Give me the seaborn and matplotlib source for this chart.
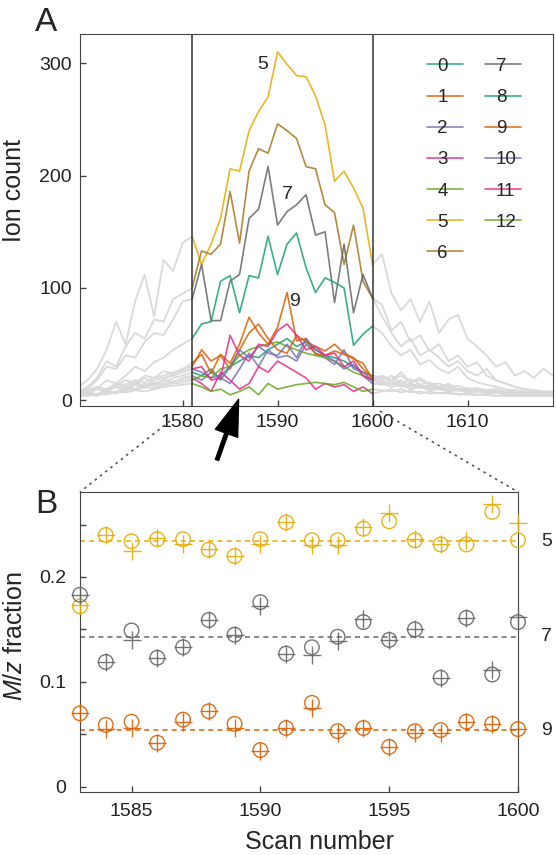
import matplotlib
matplotlib.use('Agg')
import pandas as pd
import matplotlib.pyplot as plt
from matplotlib.lines import Line2D
import seaborn as sns

# ---- panel A: ion counts per isotope peak, scans 1581-1600 (coloured window)
window_scans = list(range(1581, 1601))
left_scans = list(range(1569, 1581))
right_scans = list(range(1601, 1620))

s0 = [25, 22, 28, 18, 30, 35, 40, 38, 45, 50, 55, 48, 52, 45, 40, 38, 35, 30, 25, 22]
s1 = [30, 45, 35, 40, 28, 45, 60, 68, 55, 45, 42, 58, 52, 48, 44, 50, 42, 38, 28, 20]
s2 = [22, 18, 25, 20, 15, 28, 42, 30, 45, 38, 40, 35, 50, 42, 38, 32, 45, 28, 25, 18]
s3 = [20, 15, 8, 25, 18, 10, 15, 30, 25, 35, 30, 25, 20, 10, 15, 12, 14, 8, 12, 6]
s4 = [18, 22, 20, 28, 30, 40, 45, 48, 50, 52, 48, 45, 42, 40, 38, 35, 30, 25, 22, 18]
s5 = [146, 121, 139, 162, 206, 204, 240, 257, 270, 310, 299, 289, 288, 271, 245, 195, 204, 189, 171, 121]
s6 = [100, 133, 130, 139, 186, 140, 204, 224, 220, 246, 240, 233, 208, 206, 174, 167, 121, 156, 106, 91]
s7 = [90, 121, 71, 71, 106, 112, 162, 170, 208, 156, 168, 174, 183, 147, 150, 87, 139, 78, 112, 91]
s8 = [55, 68, 70, 106, 111, 78, 111, 109, 146, 112, 139, 149, 118, 96, 109, 105, 100, 49, 59, 66]
s9 = [33, 41, 24, 41, 33, 50, 74, 60, 50, 65, 96, 53, 55, 41, 40, 44, 41, 37, 33, 19]
s10 = [28, 25, 20, 22, 30, 45, 38, 48, 42, 40, 50, 38, 55, 45, 40, 35, 28, 32, 22, 15]
s11 = [28, 30, 18, 20, 58, 40, 35, 50, 48, 62, 68, 58, 45, 48, 40, 42, 30, 35, 22, 18]
s12 = [15, 12, 8, 10, 5, 8, 12, 5, 15, 10, 12, 14, 15, 16, 15, 14, 16, 12, 8, 10]

# grey traces before the window (1569-1580)
l0 = [6, 8, 5, 10, 12, 9, 14, 12, 16, 15, 20, 22]
l1 = [5, 7, 10, 8, 14, 18, 15, 22, 20, 26, 24, 28]
l2 = [4, 6, 5, 8, 7, 12, 10, 15, 13, 18, 16, 20]
l3 = [8, 6, 10, 8, 12, 10, 14, 11, 15, 13, 17, 18]
l4 = [3, 5, 4, 7, 6, 10, 9, 12, 11, 14, 15, 16]
l5 = [12, 18, 28, 45, 70, 50, 88, 112, 75, 125, 115, 140]
l6 = [8, 12, 20, 35, 30, 48, 60, 55, 72, 70, 90, 95]
l7 = [6, 10, 18, 30, 28, 40, 38, 52, 60, 58, 72, 88]
l8 = [5, 8, 10, 18, 15, 22, 30, 26, 34, 38, 45, 50]
l9 = [4, 6, 5, 9, 12, 8, 14, 20, 15, 18, 24, 28]
l10 = [10, 8, 12, 9, 14, 12, 16, 13, 18, 20, 22, 25]
l11 = [7, 9, 12, 10, 15, 14, 18, 16, 20, 22, 25, 26]
l12 = [5, 4, 6, 5, 8, 7, 9, 8, 10, 12, 13, 14]

# grey traces after the window (1601-1619)
r0 = [20, 18, 22, 16, 18, 14, 15, 12, 13, 10, 11, 9, 10, 8, 9, 8, 8, 7, 7]
r1 = [18, 22, 15, 19, 14, 16, 12, 13, 10, 11, 9, 9, 8, 8, 7, 7, 6, 6, 6]
r2 = [16, 14, 18, 12, 14, 10, 12, 9, 10, 8, 9, 7, 8, 6, 7, 6, 6, 5, 5]
r3 = [8, 10, 7, 9, 6, 8, 6, 7, 5, 6, 5, 5, 4, 5, 4, 4, 4, 4, 4]
r4 = [16, 18, 14, 15, 12, 13, 10, 11, 9, 9, 8, 8, 7, 7, 6, 6, 6, 5, 5]
r5 = [130, 95, 80, 90, 70, 88, 60, 72, 76, 55, 48, 40, 30, 34, 22, 26, 20, 28, 22]
r6 = [85, 62, 70, 52, 58, 44, 50, 35, 40, 30, 34, 22, 18, 15, 12, 10, 9, 8, 8]
r7 = [75, 60, 48, 55, 40, 45, 38, 30, 35, 26, 22, 28, 18, 15, 12, 10, 9, 8, 7]
r8 = [60, 48, 40, 45, 32, 36, 28, 24, 30, 20, 16, 14, 12, 10, 9, 8, 7, 7, 6]
r9 = [22, 18, 25, 16, 20, 14, 12, 15, 10, 9, 8, 8, 7, 6, 6, 5, 5, 5, 5]
r10 = [14, 16, 12, 14, 11, 12, 10, 10, 9, 8, 8, 7, 7, 6, 6, 5, 5, 5, 5]
r11 = [15, 12, 14, 10, 12, 9, 10, 8, 9, 7, 8, 6, 7, 6, 6, 5, 5, 5, 5]
r12 = [9, 8, 10, 7, 8, 6, 7, 6, 6, 5, 5, 5, 4, 4, 4, 4, 4, 4, 4]

window = [s0, s1, s2, s3, s4, s5, s6, s7, s8, s9, s10, s11, s12]
lefts = [l0, l1, l2, l3, l4, l5, l6, l7, l8, l9, l10, l11, l12]
rights = [r0, r1, r2, r3, r4, r5, r6, r7, r8, r9, r10, r11, r12]
names = [str(i) for i in range(13)]

# ---- panel B: m/z fraction, circles and crosses for peaks 5, 7, 9
scans_b = [1583, 1584, 1585, 1586, 1587, 1588, 1589, 1590, 1591,
           1592, 1593, 1594, 1595, 1596, 1597, 1598, 1599, 1600]
frac5_circ = [0.172, 0.240, 0.234, 0.236, 0.236, 0.226, 0.220, 0.236, 0.252,
              0.235, 0.235, 0.246, 0.253, 0.235, 0.231, 0.231, 0.262, 0.235]
frac5_plus = [0.173, 0.240, 0.225, 0.237, 0.231, 0.227, 0.220, 0.231, 0.252,
              0.230, 0.230, 0.248, 0.261, 0.236, 0.231, 0.235, 0.270, 0.251]
frac7_circ = [0.183, 0.119, 0.149, 0.123, 0.133, 0.159, 0.145, 0.176, 0.127,
              0.133, 0.143, 0.157, 0.140, 0.150, 0.104, 0.161, 0.107, 0.157]
frac7_plus = [0.183, 0.119, 0.140, 0.123, 0.133, 0.159, 0.145, 0.172, 0.127,
              0.126, 0.139, 0.160, 0.140, 0.150, 0.104, 0.161, 0.111, 0.162]
frac9_circ = [0.070, 0.059, 0.062, 0.042, 0.064, 0.072, 0.060, 0.035, 0.056,
              0.080, 0.053, 0.056, 0.038, 0.053, 0.054, 0.062, 0.060, 0.055]
frac9_plus = [0.070, 0.055, 0.056, 0.042, 0.062, 0.072, 0.056, 0.034, 0.056,
              0.075, 0.051, 0.056, 0.038, 0.051, 0.051, 0.062, 0.060, 0.055]
peak_labels = ['5', '7', '9']
peak_means = [0.234, 0.143, 0.054]

sns.set_style('ticks')
plt.rcParams['font.family'] = ['Liberation Sans', 'DejaVu Sans']
plt.rcParams['mathtext.fontset'] = 'custom'
plt.rcParams['mathtext.it'] = 'Liberation Sans:italic'
plt.rcParams['mathtext.rm'] = 'Liberation Sans'
plt.rcParams['axes.edgecolor'] = '#444444'
plt.rcParams['xtick.color'] = '#444444'
plt.rcParams['ytick.color'] = '#444444'
plt.rcParams['xtick.labelcolor'] = '#222222'
plt.rcParams['ytick.labelcolor'] = '#222222'

pal = sns.color_palette('Dark2', 8)
pal13 = [pal[i % 8] for i in range(13)]

W, H = 556, 855
fig = plt.figure(figsize=(W / 100, H / 100), dpi=100)
axA = fig.add_axes([80 / W, 1 - 406 / H, 473 / W, 372 / H])
axB = fig.add_axes([80 / W, 1 - 792 / H, 438 / W, 300 / H])

# grey traces outside the window
grey_rows = []
for i in range(13):
    for sc, v in zip(left_scans + [window_scans[0]], lefts[i] + [window[i][0]]):
        grey_rows.append((sc, v, 'L' + names[i]))
    for sc, v in zip([window_scans[-1]] + right_scans, [window[i][-1]] + rights[i]):
        grey_rows.append((sc, v, 'R' + names[i]))
df_grey = pd.DataFrame(grey_rows, columns=['scan', 'count', 'unit'])
sns.lineplot(data=df_grey, x='scan', y='count', units='unit', estimator=None,
             color='#d9d9d9', lw=1.3, legend=False, ax=axA)

win_rows = []
for i in range(13):
    for sc, v in zip(window_scans, window[i]):
        win_rows.append((sc, v, names[i]))
df_win = pd.DataFrame(win_rows, columns=['scan', 'count', 'series'])
sns.lineplot(data=df_win, x='scan', y='count', hue='series', hue_order=names,
             palette=pal13, estimator=None, lw=1.2, alpha=0.85, ax=axA)

axA.axvline(1581, color='#333333', lw=1.1)
axA.axvline(1600, color='#333333', lw=1.1)
axA.set_xlim(1569.2, 1619.0)
axA.set_ylim(-5, 326)
axA.set_xticks([1580, 1590, 1600, 1610])
axA.set_yticks([0, 100, 200, 300])
axA.set_xlabel('')
axA.set_ylabel('Ion count', fontsize=18)
axA.yaxis.set_label_coords(-0.115, 0.58)
axA.tick_params(direction='in', length=4, width=1, labelsize=14, pad=6)

handles, labels = axA.get_legend_handles_labels()
axA.legend(handles, labels, ncol=2, loc='upper left', bbox_to_anchor=(0.734, 0.936),
           frameon=False, fontsize=13.5, handlelength=1.9, handletextpad=-1.35,
           columnspacing=2.0, labelspacing=0.75, borderpad=0, borderaxespad=0)

axA.text(1588.4, 299, '5', fontsize=14, ha='center', va='center')
axA.text(1591.0, 183, '7', fontsize=14, ha='center', va='center')
axA.text(1591.8, 88, '9', fontsize=14, ha='center', va='center')

axA.annotate('', xy=(1585.9, 1), xycoords='data',
             xytext=(217 / W, 1 - 460 / H), textcoords='figure fraction',
             arrowprops=dict(facecolor='black', edgecolor='black', width=2.5,
                             headwidth=17, headlength=26, shrink=0),
             annotation_clip=False)

# ---- panel B
colsB = [pal[5], pal[7], pal[1]]
circs = [frac5_circ, frac7_circ, frac9_circ]
pluses = [frac5_plus, frac7_plus, frac9_plus]
for c, yc, yp, m, lab in zip(colsB, circs, pluses, peak_means, peak_labels):
    axB.axhline(m, color=c, lw=1.2, ls='--', dashes=(3, 2.5), alpha=0.9, zorder=1)
    sns.scatterplot(x=scans_b, y=yc, marker='o', s=110, facecolors='none',
                    edgecolor=c, linewidth=1.0, alpha=0.9, clip_on=False, zorder=3, ax=axB)
    sns.scatterplot(x=scans_b, y=yp, marker='+', s=150, color=c,
                    linewidth=1.0, alpha=0.9, clip_on=False, zorder=3, ax=axB)
    axB.text(1.065, m, lab, transform=axB.get_yaxis_transform(), fontsize=14,
             ha='center', va='center')

axB.set_xlim(1583, 1600)
axB.set_ylim(-0.005, 0.281)
axB.set_xticks([1585, 1590, 1595, 1600])
axB.set_yticks([0, 0.05, 0.1, 0.15, 0.2, 0.25])
axB.set_yticklabels(['0', '', '0.1', '', '0.2', ''])
axB.tick_params(direction='in', length=4, width=1, labelsize=14)
axB.tick_params(axis='y', pad=10)
axB.tick_params(axis='x', pad=8)
axB.set_xlabel('Scan number', fontsize=18)
axB.set_ylabel(r'$\mathit{M/z}$ fraction', fontsize=18)
axB.xaxis.set_label_coords(0.546, -0.125)
axB.yaxis.set_label_coords(-0.12, 0.52)

# panel letters and zoom connectors
fig.text(35 / W, 1 - 31 / H, 'A', fontsize=24, va='baseline')
fig.text(35 / W, 1 - 513 / H, 'B', fontsize=24, va='baseline')
fig.add_artist(Line2D([170 / W, 80 / W], [1 - 421 / H, 1 - 492 / H],
                      transform=fig.transFigure, ls=(0, (1.5, 2.5)), color='#555555', lw=1.2))
fig.add_artist(Line2D([380 / W, 518 / W], [1 - 411 / H, 1 - 492 / H],
                      transform=fig.transFigure, ls=(0, (1.5, 2.5)), color='#555555', lw=1.2))

fig.savefig('out.png', dpi=100)
